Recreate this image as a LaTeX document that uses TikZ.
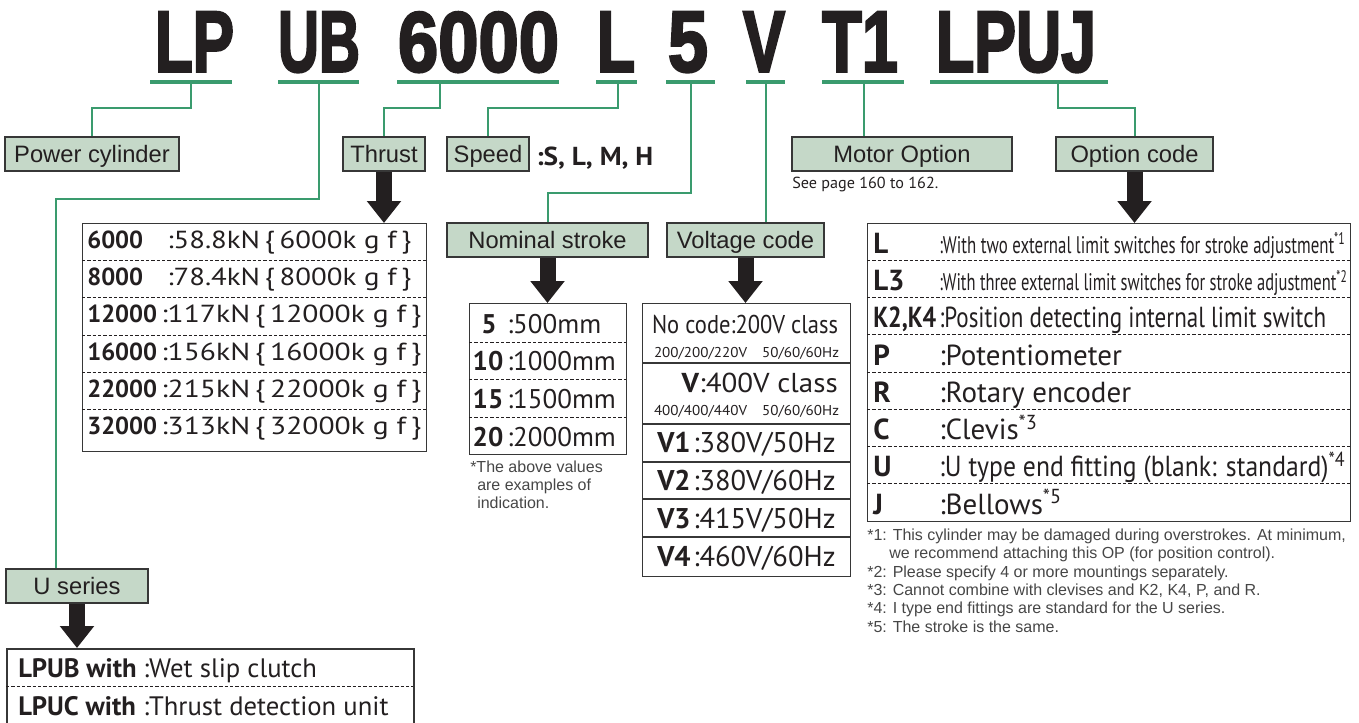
\documentclass[tikz,border=0pt]{standalone}
\usepackage{fontspec}
\setmainfont{PT Sans}
\newfontfamily\boxfont{Liberation Sans}
\newfontfamily\titlefont[FakeBold=3]{Liberation Sans}
\usepackage{xcolor}
\definecolor{Green}{RGB}{58,155,110}
\definecolor{Mint}{RGB}{197,216,200}
\definecolor{Ink}{RGB}{35,31,32}
\definecolor{Frame}{RGB}{55,55,55}
\definecolor{Grey}{RGB}{70,70,70}
\usetikzlibrary{arrows.meta,calc}

\newdimen\pxu \pxu=0.75pt
\newcommand{\fsz}[1]{\fontsize{#1}{#1}\selectfont}
% squeeze a text to a width given in px
\newsavebox\fitbox
\newdimen\fitd
\newcommand{\fitw}[2]{\sbox\fitbox{#2}\fitd=\wd\fitbox\pgfmathsetmacro\fitr{#1*0.75/\fitd}\scalebox{\fitr}[1]{\usebox\fitbox}}

\tikzset{
	link/.style={draw=Green, line width=1.5pt},
	bar/.style={draw=Green, line width=2.6pt},
	tag/.style={draw=Frame, fill=Mint, line width=1.4pt, inner sep=0pt, text=Ink, font=\boxfont\fsz{17.8}, text height=15pt, text depth=3pt},
	fat/.style={draw=Ink, line width=12pt, -{Triangle[width=24.75pt, length=16.5pt]}},
	tablebox/.style={draw=Frame, line width=1.1pt, inner sep=0pt, anchor=north west},
	rowline/.style={draw=Ink, line width=0.7pt, dash pattern=on 2.5pt off 1.5pt},
	rowtxt/.style={anchor=base west, inner sep=0pt, text=Ink},
	note/.style={anchor=base west, inner sep=0pt, text=Grey, font=\boxfont\fsz{12}},
	title/.style={anchor=base, inner sep=0pt, text=Ink},
}

\begin{document}
\begin{tikzpicture}[x=0.75pt, y=-0.75pt]
		
		\useasboundingbox (0,0) rectangle (1359,722);
		\clip (0,0) rectangle (1359,722);
		
		% Model code
		\node[title] (tLP) at (194.5,71.5) {\resizebox{79\pxu}{59.5\pxu}{\titlefont\bfseries LP}};
		\node[title] (tUB) at (319,71.5) {\resizebox{82\pxu}{59.5\pxu}{\titlefont\bfseries UB}};
		\node[title] (t6000) at (478.5,71.5) {\resizebox{161\pxu}{59.5\pxu}{\titlefont\bfseries 6000}};
		\node[title] (tL) at (616,71.5) {\resizebox{38\pxu}{59.5\pxu}{\titlefont\bfseries L}};
		\node[title] (t5) at (688,71.5) {\resizebox{40\pxu}{59.5\pxu}{\titlefont\bfseries 5}};
		\node[title] (tV) at (764,71.5) {\resizebox{42\pxu}{59.5\pxu}{\titlefont\bfseries V}};
		\node[title] (tT1) at (860,71.5) {\resizebox{76\pxu}{59.5\pxu}{\titlefont\bfseries T1}};
		\node[title] (tLPUJ) at (1016,71.5) {\resizebox{160\pxu}{59.5\pxu}{\titlefont\bfseries LPUJ}};
		
		% Underlines
		\draw[bar] (150,82) -- (232,82);
		\draw[bar] (278,82) -- (359,82);
		\draw[bar] (397,82) -- (559,82);
		\draw[bar] (596,82) -- (637,82);
		\draw[bar] (666,82) -- (715,82);
		\draw[bar] (746,82) -- (785,82);
		\draw[bar] (822,82) -- (904,82);
		\draw[bar] (930,82) -- (1108,82);
		\coordinate (lpBar) at (191,82);
		\coordinate (ubBar) at (319,82);
		\coordinate (thrBar) at (440,82);
		\coordinate (spBar) at (618,82);
		\coordinate (stBar) at (691,82);
		\coordinate (vBar) at (766,82);
		\coordinate (moBar) at (864,82);
		\coordinate (opBar) at (1058,82);
		
		% Labels
		\node[tag, minimum width=174\pxu, minimum height=34\pxu] (pcBox) at (92,154) {Power cylinder};
		\node[tag, minimum width=82\pxu, minimum height=34\pxu] (thBox) at (384,154) {Thrust};
		\node[tag, minimum width=82\pxu, minimum height=34\pxu] (spBox) at (488,154) {Speed};
		\node[tag, minimum width=220\pxu, minimum height=34\pxu] (moBox) at (902,154) {Motor Option};
		\node[tag, minimum width=157\pxu, minimum height=34\pxu] (ocBox) at (1134.5,154) {Option code};
		\node[tag, minimum width=201\pxu, minimum height=34\pxu] (nsBox) at (547.5,240) {Nominal stroke};
		\node[tag, minimum width=157\pxu, minimum height=34\pxu] (vcBox) at (745.5,240) {Voltage code};
		\node[tag, minimum width=142\pxu, minimum height=34\pxu] (usBox) at (77,586) {U series};
		
		\node[rowtxt, font=\bfseries\fsz{19.5}] (spVal) at (536,165) {\fitw{117}{:S, L, M, H}};
		\node[rowtxt, font=\fsz{12}] (seePg) at (792,188) {\fitw{146}{See page 160 to 162.}};
		
		% Links
		\draw[link] (lpBar) -- ++(0,26) -| (pcBox.north);
		\draw[link] (ubBar) -- ++(0,117) -| ($(usBox.north west)+(51,0)$);
		\draw[link] (thrBar) -- ++(0,26) -| (thBox.north);
		\draw[link] (spBar) -- ++(0,26) -| (spBox.north);
		\draw[link] (stBar) -- ++(0,111) -| (nsBox.north);
		\draw[link] (vBar) -- (vBar |- vcBox.north);
		\draw[link] (moBar) -- (moBar |- moBox.north);
		\draw[link] (opBar) -- ++(0,26) -| (ocBox.north);
		
		% Tables
		\node[tablebox, minimum width=344\pxu, minimum height=228\pxu] (thTab) at (82,223) {};
		\node[tablebox, minimum width=157\pxu, minimum height=151\pxu] (stTab) at (469,303) {};
		\node[tablebox, minimum width=208\pxu, minimum height=273\pxu] (vtTab) at (642,303) {};
		\node[tablebox, minimum width=483\pxu, minimum height=298\pxu] (opTab) at (867,223) {};
		\node[tablebox, minimum width=407\pxu, minimum height=80\pxu, line width=1.5pt] (lpTab) at (6,648) {};
		
		% Arrows
		\draw[fat] (thBox.south) -- (thBox.south |- thTab.north);
		\draw[fat] (ocBox.south) -- (ocBox.south |- opTab.north);
		\draw[fat] (nsBox.south) -- (nsBox.south |- stTab.north);
		\draw[fat] (vcBox.south) -- (vcBox.south |- vtTab.north);
		\draw[fat] (usBox.south) -- (usBox.south |- lpTab.north);
		
		% Thrust
		\foreach \y in {260,297.5,335,372,409.5} \draw[rowline] (82,\y) -- (426,\y);
		\node[rowtxt, font=\bfseries\fsz{18.5}] (th1k) at (87,248) {6000};
		\node[rowtxt, font=\bfseries\fsz{18.5}] (th2k) at (87,285) {8000};
		\node[rowtxt, font=\bfseries\fsz{18.5}] (th3k) at (87,322.5) {12000};
		\node[rowtxt, font=\bfseries\fsz{18.5}] (th4k) at (87,360) {16000};
		\node[rowtxt, font=\bfseries\fsz{18.5}] (th5k) at (87,397) {22000};
		\node[rowtxt, font=\bfseries\fsz{18.5}] (th6k) at (87,434.5) {32000};
		\node[rowtxt, font=\fsz{18.5}] (th1v) at (167,248) {\fitw{244}{:58.8kN\,\{\,6000k g f\,\}}};
		\node[rowtxt, font=\fsz{18.5}] (th2v) at (167,285) {\fitw{244}{:78.4kN\,\{\,8000k g f\,\}}};
		\node[rowtxt, font=\fsz{18.5}] (th3v) at (161,322.5) {\fitw{260}{:117kN\,\{\,12000k g f\,\}}};
		\node[rowtxt, font=\fsz{18.5}] (th4v) at (161,360) {\fitw{260}{:156kN\,\{\,16000k g f\,\}}};
		\node[rowtxt, font=\fsz{18.5}] (th5v) at (161,397) {\fitw{260}{:215kN\,\{\,22000k g f\,\}}};
		\node[rowtxt, font=\fsz{18.5}] (th6v) at (161,434.5) {\fitw{260}{:313kN\,\{\,32000k g f\,\}}};
		
		% Stroke
		\foreach \y in {342,379,417} \draw[rowline] (469,\y) -- (626,\y);
		\node[anchor=base, inner sep=0pt, text=Ink, font=\bfseries\fsz{20.25}] (st1k) at (489,333) {5};
		\node[anchor=base, inner sep=0pt, text=Ink, font=\bfseries\fsz{20.25}] (st2k) at (488,370) {10};
		\node[anchor=base, inner sep=0pt, text=Ink, font=\bfseries\fsz{20.25}] (st3k) at (488,408) {15};
		\node[anchor=base, inner sep=0pt, text=Ink, font=\bfseries\fsz{20.25}] (st4k) at (488,446) {20};
		\node[rowtxt, font=\fsz{20.25}] (st1v) at (507,333) {:500mm};
		\node[rowtxt, font=\fsz{20.25}] (st2v) at (507,370) {:1000mm};
		\node[rowtxt, font=\fsz{20.25}] (st3v) at (507,408) {:1500mm};
		\node[rowtxt, font=\fsz{20.25}] (st4v) at (507,446) {:2000mm};
		\node[note] (stNote) at (470,472) {*The above values};
		\node[note] (stNote2) at (477,490) {are examples of};
		\node[note] (stNote3) at (477,508) {indication.};
		
		% Voltage
		\foreach \y in {363,424,462,499,537} \draw[draw=Frame, line width=1.1pt] (642,\y) -- (850,\y);
		\node[anchor=base, inner sep=0pt, text=Ink, font=\fsz{19.3}] (vt0) at (745,333) {\fitw{186}{No code:200V class}};
		\node[anchor=base, inner sep=0pt, text=Ink, font=\fsz{10.7}] (vt0s) at (746.5,357) {\fitw{185}{200/200/220V\quad 50/60/60Hz}};
		\node[anchor=base east, inner sep=0pt, text=Ink, font=\fsz{20.5}] (vtV) at (838,392) {\fitw{156}{\textbf{V}:400V class}};
		\node[anchor=base, inner sep=0pt, text=Ink, font=\fsz{10.7}] (vtVs) at (746.5,415) {\fitw{185}{400/400/440V\quad 50/60/60Hz}};
		\node[rowtxt, font=\bfseries\fsz{21.4}] (vt1k) at (657,452) {V1};
		\node[rowtxt, font=\bfseries\fsz{21.4}] (vt2k) at (657,490) {V2};
		\node[rowtxt, font=\bfseries\fsz{21.4}] (vt3k) at (657,528) {V3};
		\node[rowtxt, font=\bfseries\fsz{21.4}] (vt4k) at (657,566) {V4};
		\node[rowtxt, font=\fsz{21.4}] (vt1v) at (693,452) {:380V/50Hz};
		\node[rowtxt, font=\fsz{21.4}] (vt2v) at (693,490) {:380V/60Hz};
		\node[rowtxt, font=\fsz{21.4}] (vt3v) at (693,528) {:415V/50Hz};
		\node[rowtxt, font=\fsz{21.4}] (vt4v) at (693,566) {:460V/60Hz};
		
		% Options
		\foreach \y in {260.25,297.5,334.75,372,409.25,446.5,483.75} \draw[rowline] (867,\y) -- (1350,\y);
		\node[rowtxt, font=\bfseries\fsz{21.75}] (op1k) at (873,253) {L};
		\node[rowtxt, font=\bfseries\fsz{21.75}] (op2k) at (873,290.5) {L3};
		\node[rowtxt, font=\bfseries\fsz{21.75}] (op3k) at (873,327.75) {\fitw{63}{K2,K4}};
		\node[rowtxt, font=\bfseries\fsz{21.75}] (op4k) at (873,365) {P};
		\node[rowtxt, font=\bfseries\fsz{21.75}] (op5k) at (873,402.25) {R};
		\node[rowtxt, font=\bfseries\fsz{21.75}] (op6k) at (873,439.5) {C};
		\node[rowtxt, font=\bfseries\fsz{21.75}] (op7k) at (873,476.75) {U};
		\node[rowtxt, font=\bfseries\fsz{21.75}] (op8k) at (873,514) {J};
		\node[rowtxt, font=\fsz{18}] (op1v) at (939,253) {\fitw{406}{:With two external limit switches for stroke adjustment\textsuperscript{*1}}};
		\node[rowtxt, font=\fsz{18}] (op2v) at (939,290.5) {\fitw{408}{:With three external limit switches for stroke adjustment\textsuperscript{*2}}};
		\node[rowtxt, font=\fsz{21.75}] (op3v) at (939,327.75) {\fitw{387}{:Position detecting internal limit switch}};
		\node[rowtxt, font=\fsz{21.75}] (op4v) at (939,365) {:Potentiometer};
		\node[rowtxt, font=\fsz{21.75}] (op5v) at (939,402.25) {:Rotary encoder};
		\node[rowtxt, font=\fsz{21.75}] (op6v) at (939,439.5) {:Clevis\textsuperscript{*3}};
		\node[rowtxt, font=\fsz{21.75}] (op7v) at (939,476.75) {\fitw{406}{:U type end fitting (blank: standard)\textsuperscript{*4}}};
		\node[rowtxt, font=\fsz{21.75}] (op8v) at (939,514) {:Bellows\textsuperscript{*5}};
		
		% Footnotes
		\node[note] (fn1) at (867,540) {*1: This cylinder may be damaged during overstrokes. At minimum,};
		\node[note] (fn1b) at (889,558) {we recommend attaching this OP (for position control).};
		\node[note] (fn2) at (867,577) {*2: Please specify 4 or more mountings separately.};
		\node[note] (fn3) at (867,595) {*3: Cannot combine with clevises and K2, K4, P, and R.};
		\node[note] (fn4) at (867,613) {*4: I type end fittings are standard for the U series.};
		\node[note] (fn5) at (867,632) {*5: The stroke is the same.};
		
		% U series
		\draw[rowline] (6,686) -- (413,686);
		\node[rowtxt, font=\bfseries\fsz{20}] (lp1k) at (18,677) {LPUB with};
		\node[rowtxt, font=\bfseries\fsz{20}] (lp2k) at (18,715) {LPUC with};
		\node[rowtxt, font=\fsz{20}] (lp1v) at (143,677) {:Wet slip clutch};
		\node[rowtxt, font=\fsz{20}] (lp2v) at (143,715) {:Thrust detection unit};
		
	\end{tikzpicture}
\end{document}
